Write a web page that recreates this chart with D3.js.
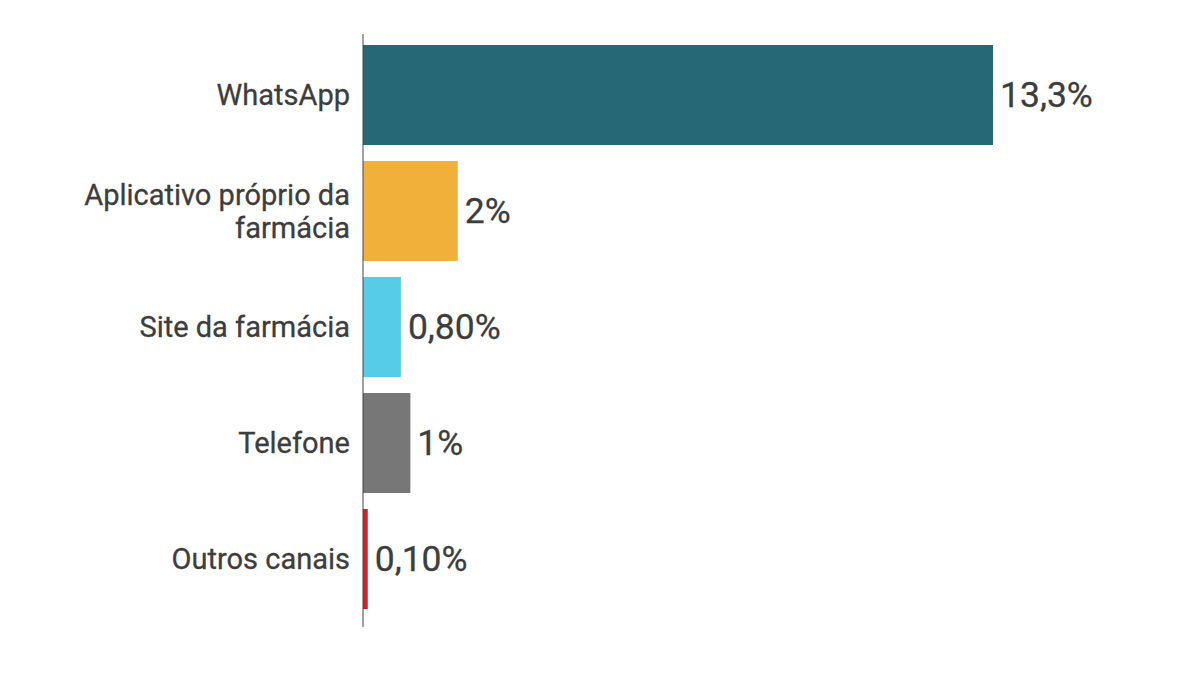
<!DOCTYPE html>
<html>
<head>
<meta charset="utf-8">
<script src="https://cdn.jsdelivr.net/npm/d3@7"></script>
<style>
  body { margin: 0; background: #fff; }
  svg { font-family: Roboto, sans-serif; }
</style>
</head>
<body>
<div id="chart"></div>
<script>
var categories = ["WhatsApp", "Aplicativo próprio da farmácia", "Site da farmácia", "Telefone", "Outros canais"];
var labelLines = [["WhatsApp"], ["Aplicativo próprio da", "farmácia"], ["Site da farmácia"], ["Telefone"], ["Outros canais"]];
var values = [13.3, 2, 0.8, 1, 0.1];
var valueLabels = ["13,3%", "2%", "0,80%", "1%", "0,10%"];
var colors = ["#276877", "#f0b03a", "#56cce8", "#777777", "#cc2229"];

var width = 1200, height = 675;

var svg = d3.select("#chart").append("svg")
    .attr("width", width)
    .attr("height", height);

var x = d3.scaleLinear()
    .domain([0, 13.3])
    .range([363, 993]);

var y = d3.scaleBand()
    .domain(categories)
    .range([37, 617])
    .paddingInner(0.138)
    .paddingOuter(0.069);

var rows = svg.selectAll(".row")
    .data(categories)
    .enter().append("g")
    .attr("class", "row");

rows.append("rect")
    .attr("x", x(0))
    .attr("y", function(d) { return y(d); })
    .attr("width", function(d, i) { return x(values[i]) - x(0); })
    .attr("height", y.bandwidth())
    .attr("fill", function(d, i) { return colors[i]; });

// category labels, right aligned against the axis
rows.append("text")
    .attr("text-anchor", "end")
    .attr("font-size", 29)
    .attr("fill", "#3d3d3d")
    .attr("stroke", "#3d3d3d")
    .attr("stroke-width", 0.3)
    .each(function(d, i) {
        var lines = labelLines[i];
        var cy = y(d) + y.bandwidth() / 2;
        var lh = 33;
        var t = d3.select(this);
        lines.forEach(function(l, j) {
            t.append("tspan")
                .attr("x", 350)
                .attr("y", cy + (j - (lines.length - 1) / 2) * lh)
                .attr("dy", "0.35em")
                .text(l);
        });
    });

// value labels
rows.append("text")
    .attr("x", function(d, i) { return x(values[i]) + 7; })
    .attr("y", function(d) { return y(d) + y.bandwidth() / 2; })
    .attr("dy", "0.35em")
    .attr("font-size", 35.5)
    .attr("fill", "#3d3d3d")
    .attr("stroke", "#3d3d3d")
    .attr("stroke-width", 0.3)
    .text(function(d, i) { return valueLabels[i]; });

// axis line
svg.append("line")
    .attr("x1", x(0)).attr("x2", x(0))
    .attr("y1", 34).attr("y2", 627)
    .attr("stroke", "#444")
    .attr("stroke-width", 1);
</script>
</body>
</html>
